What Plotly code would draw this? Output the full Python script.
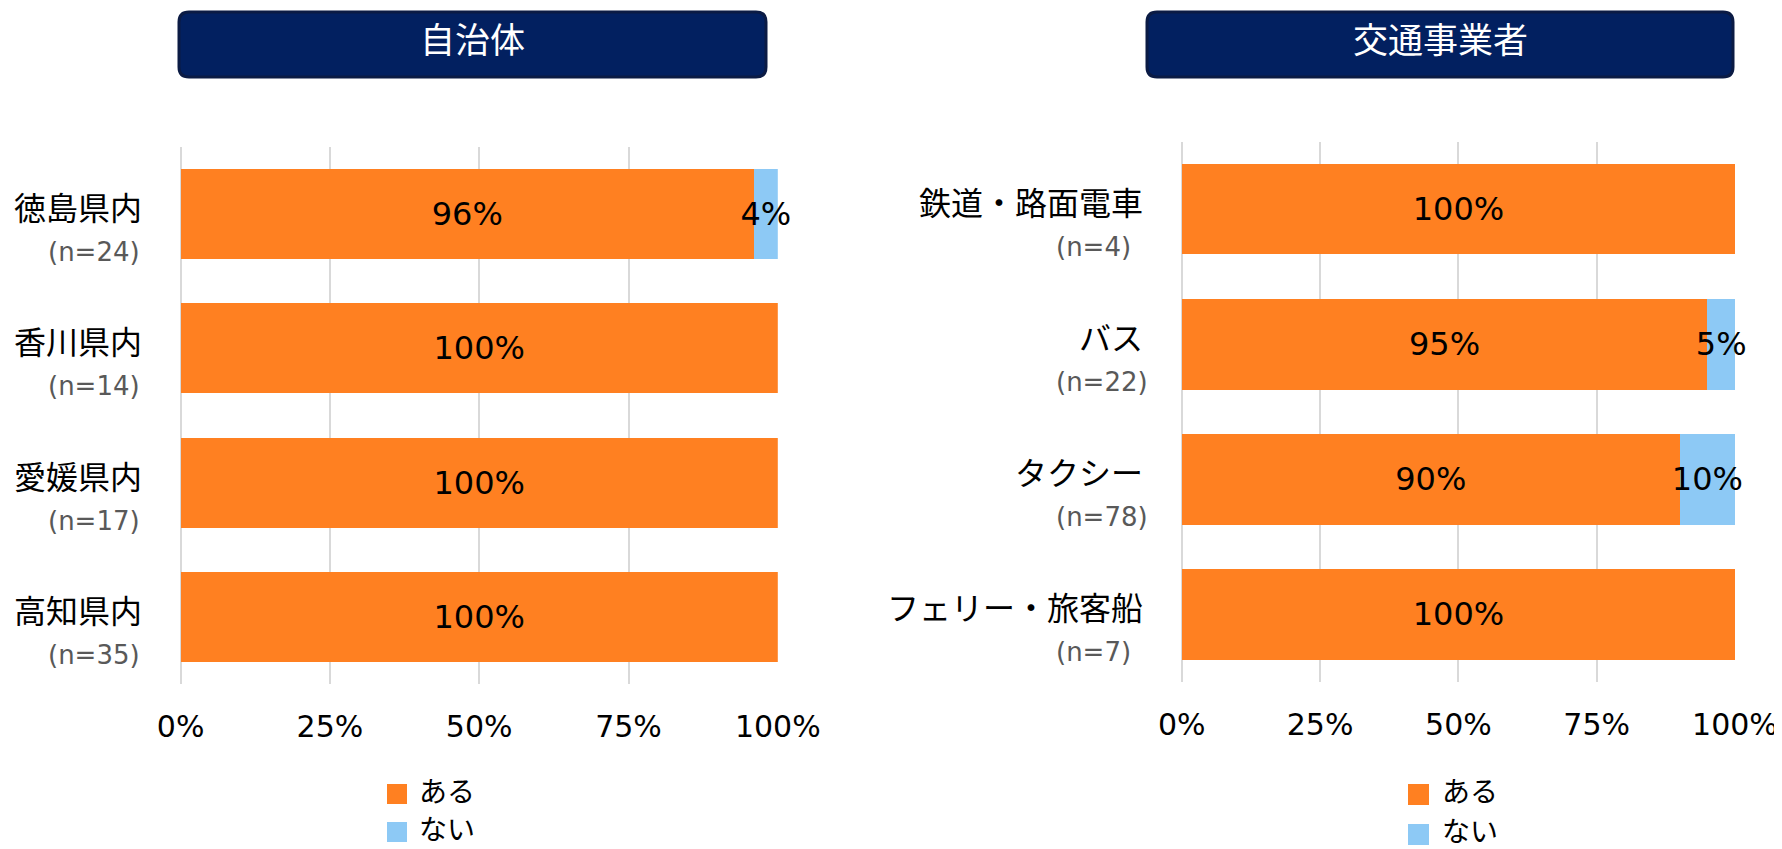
import plotly.graph_objects as go

# ---------------- data ----------------
gov_categories = ["徳島県内", "香川県内", "愛媛県内", "高知県内"]
gov_n = [24, 14, 17, 35]
gov_yes = [0.96, 1.00, 1.00, 1.00]
gov_no = [0.04, 0.00, 0.00, 0.00]

op_categories = ["鉄道・路面電車", "バス", "タクシー", "フェリー・旅客船"]
op_n = [4, 22, 78, 7]
op_yes = [1.00, 0.95, 0.90, 1.00]
op_no = [0.00, 0.05, 0.10, 0.00]

series_names = ["ある", "ない"]
panel_titles = ["自治体", "交通事業者"]
tick_vals = [0, 0.25, 0.5, 0.75, 1.0]
tick_labels = ["0%", "25%", "50%", "75%", "100%"]

# ---------------- style ----------------
PAGE_W, PAGE_H = 1782, 849
OFF = 8  # default body margin of the html page
W, H = PAGE_W - OFF, PAGE_H - OFF
FONT = "DejaVu Sans, Noto Sans CJK JP, sans-serif"
COLORS = ["#FF8021", "#8DC9F5"]
NAVY = "#022060"
GRID = "#D9D9D9"


def px(x):
    return (x - OFF) / W


def py(y):
    return 1 - (y - OFF) / H


def pct_text(vals):
    return [f"{round(v * 100)}%" if v > 0 else "" for v in vals]


fig = go.Figure()

panels = [
    dict(cats=gov_categories, n=gov_n, series=[gov_yes, gov_no], xa="x", ya="y",
         xdom=(180.6, 777.8), ydom=(146.7, 684.0)),
    dict(cats=op_categories, n=op_n, series=[op_yes, op_no], xa="x2", ya="y2",
         xdom=(1181.8, 1735.0), ydom=(141.7, 682.0)),
]

for p in panels:
    for name, vals, col in zip(series_names, p["series"], COLORS):
        fig.add_trace(go.Bar(
            y=p["cats"], x=vals, name=name, orientation="h",
            marker=dict(color=col, line=dict(width=0)),
            text=pct_text(vals), textposition="inside", textangle=0,
            insidetextanchor="middle", constraintext="none",
            textfont=dict(family=FONT, size=32, color="#000000"),
            cliponaxis=False, showlegend=False, hoverinfo="skip",
            xaxis=p["xa"], yaxis=p["ya"],
        ))

layout = dict(
    template="none",
    width=W, height=H, margin=dict(l=0, r=0, t=0, b=0, pad=0, autoexpand=False),
    paper_bgcolor="white", plot_bgcolor="white",
    barmode="stack", bargap=0.33,
    font=dict(family=FONT, color="#000000"),
    showlegend=False,
)

annotations = []
shapes = []

for i, p in enumerate(panels):
    sfx = "" if i == 0 else str(i + 1)
    layout["xaxis" + sfx] = dict(
        domain=[px(p["xdom"][0]), px(p["xdom"][1])],
        anchor="y" + sfx, range=[0, 1], automargin=False,
        tickvals=tick_vals, ticktext=tick_labels,
        tickfont=dict(family=FONT, size=30, color="#000000"),
        showgrid=True, gridcolor=GRID, gridwidth=2,
        zeroline=True, zerolinecolor=GRID, zerolinewidth=2,
        showline=False, ticks="outside", ticklen=16,
        tickcolor="rgba(0,0,0,0)", fixedrange=True,
    )
    n = len(p["cats"])
    layout["yaxis" + sfx] = dict(
        domain=[py(p["ydom"][1]), py(p["ydom"][0])],
        anchor="x" + sfx, type="category", automargin=False,
        categoryorder="array", categoryarray=p["cats"],
        range=[n - 0.5, -0.5], showticklabels=False, ticks="",
        showgrid=False, zeroline=False, showline=False, fixedrange=True,
    )

    # category labels (two lines)
    label_right = p["xdom"][0] - 37
    n_left = 46 if i == 0 else 1054
    for cat, cnt in zip(p["cats"], p["n"]):
        annotations.append(dict(
            xref="paper", yref="y" + sfx, x=px(label_right), y=cat,
            text=cat, showarrow=False, xanchor="right", yanchor="middle",
            yshift=5, font=dict(family=FONT, size=32, color="#000000"),
        ))
        annotations.append(dict(
            xref="paper", yref="y" + sfx, x=px(n_left), y=cat,
            text=f"(n={cnt})", showarrow=False, xanchor="left", yanchor="middle",
            yshift=-38, font=dict(family=FONT, size=26, color="#595959"),
        ))

# title boxes
title_boxes = [(179, 766, 12, 77), (1147, 1733, 12, 77)]
for (x0, x1, y0, y1), title in zip(title_boxes, panel_titles):
    r = 10
    path = (
        f"M{px(x0 + r)},{py(y0)} L{px(x1 - r)},{py(y0)} "
        f"Q{px(x1)},{py(y0)} {px(x1)},{py(y0 + r)} "
        f"L{px(x1)},{py(y1 - r)} Q{px(x1)},{py(y1)} {px(x1 - r)},{py(y1)} "
        f"L{px(x0 + r)},{py(y1)} Q{px(x0)},{py(y1)} {px(x0)},{py(y1 - r)} "
        f"L{px(x0)},{py(y0 + r)} Q{px(x0)},{py(y0)} {px(x0 + r)},{py(y0)} Z"
    )
    shapes.append(dict(type="path", xref="paper", yref="paper", path=path,
                       fillcolor=NAVY, line=dict(color="#0B1B44", width=3),
                       layer="above"))
    annotations.append(dict(
        xref="paper", yref="paper", x=px((x0 + x1) / 2), y=py(41),
        text=title, showarrow=False, xanchor="center", yanchor="middle",
        font=dict(family=FONT, size=35, color="#FFFFFF"),
    ))

# manual legends
legend_specs = [
    dict(sx=387, size=20, tx=417, rows=[784, 822]),
    dict(sx=1408, size=21, tx=1440, rows=[784, 824]),
]
for spec in legend_specs:
    for name, col, top in zip(series_names, COLORS, spec["rows"]):
        s = spec["size"]
        shapes.append(dict(type="rect", xref="paper", yref="paper",
                           x0=px(spec["sx"]), x1=px(spec["sx"] + s),
                           y0=py(top + s), y1=py(top),
                           fillcolor=col, line=dict(width=0)))
        annotations.append(dict(
            xref="paper", yref="paper", x=px(spec["tx"]), y=py(top + s / 2 - 2),
            text=name, showarrow=False, xanchor="left", yanchor="middle",
            font=dict(family=FONT, size=28, color="#000000"),
        ))

layout["annotations"] = annotations
layout["shapes"] = shapes
fig.update_layout(**layout)

fig.write_html("out.html")
